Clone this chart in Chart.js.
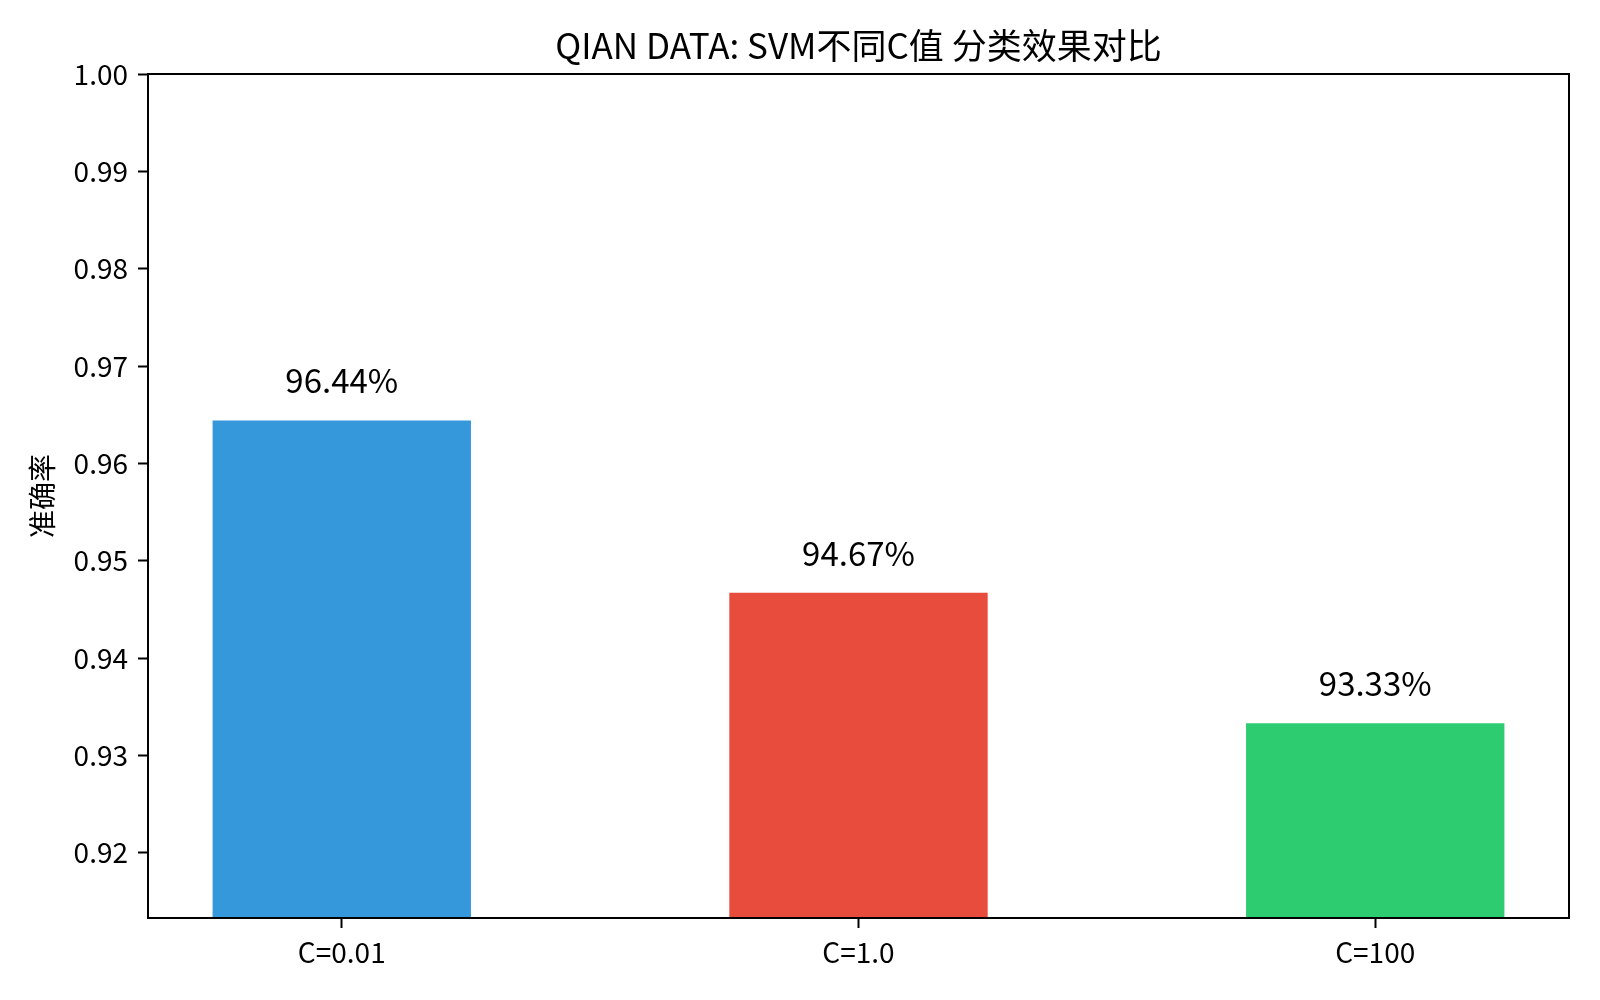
<!DOCTYPE html>
<html>
<head>
<meta charset="utf-8">
<script src="https://cdn.jsdelivr.net/npm/chart.js@4/dist/chart.umd.min.js"></script>
<style>
  html, body { margin: 0; padding: 0; background: #fff; }
  #wrap { width: 1600px; height: 1000px; }
</style>
</head>
<body>
<div id="wrap"><canvas id="myChart" width="1600" height="1000"></canvas></div>
<script>
// data
var categories = ["C=0.01", "C=1.0", "C=100"];
var accuracy = [0.9644, 0.9467, 0.9333];
var barColors = ["#3498db", "#e74c3c", "#2ecc71"];
var yTicks = [0.92, 0.93, 0.94, 0.95, 0.96, 0.97, 0.98, 0.99, 1.00];
var yMin = 0.9133, yMax = 1.0;
var titleText = 'QIAN DATA: SVM不同C值 分类效果对比';

var FONT = "'Noto Sans CJK SC', 'Noto Sans', sans-serif";

// full box around the plot like matplotlib, and title centred over the axes
var frame = {
    id: 'frame',
    afterDraw: function (chart) {
        var a = chart.chartArea, ctx = chart.ctx;
        ctx.save();
        ctx.strokeStyle = '#000';
        ctx.lineWidth = 2;
        ctx.strokeRect(a.left, a.top, a.right - a.left, a.bottom - a.top);
        ctx.font = '35px ' + FONT;
        ctx.fillStyle = '#000';
        ctx.textAlign = 'center';
        ctx.textBaseline = 'middle';
        ctx.fillText(titleText, (a.left + a.right) / 2, a.top - 28);
        ctx.restore();
    }
};

// percent labels above bars
var valueLabels = {
    id: 'valueLabels',
    afterDatasetsDraw: function (chart) {
        var ctx = chart.ctx;
        var meta = chart.getDatasetMeta(0);
        var ys = chart.scales.y;
        ctx.save();
        ctx.font = '33px ' + FONT;
        ctx.fillStyle = '#000';
        ctx.textAlign = 'center';
        ctx.textBaseline = 'alphabetic';
        meta.data.forEach(function (bar, i) {
            var v = accuracy[i];
            ctx.fillText((v * 100).toFixed(2) + '%', bar.x, ys.getPixelForValue(v + 0.0028));
        });
        ctx.restore();
    }
};

var ctx = document.getElementById("myChart");
var chart = new Chart(ctx, {
    type: 'bar',
    data: {
        datasets: [{
            data: accuracy.map(function (v, i) { return {x: i, y: v}; }),
            backgroundColor: barColors,
            borderWidth: 0,
            barPercentage: 0.5,
            categoryPercentage: 1.0
        }]
    },
    plugins: [frame, valueLabels],
    options: {
        responsive: false,
        animation: false,
        devicePixelRatio: 1,
        layout: { padding: { left: 0, right: 31, top: 74, bottom: 0 } },
        plugins: {
            legend: { display: false },
            tooltip: { enabled: false },
            title: { display: false }
        },
        scales: {
            x: {
                type: 'linear',
                min: -0.375,
                max: 2.375,
                offset: false,
                afterBuildTicks: function (scale) {
                    scale.ticks = categories.map(function (c, i) { return {value: i}; });
                },
                afterFit: function (scale) { scale.height = 82; },
                ticks: {
                    autoSkip: false,
                    maxRotation: 0,
                    padding: 8,
                    color: '#000',
                    font: { family: FONT, size: 28 },
                    callback: function (v) { return categories[v]; }
                },
                grid: {
                    offset: false,
                    drawOnChartArea: false,
                    drawTicks: true,
                    tickLength: 10,
                    tickWidth: 2,
                    color: '#000'
                },
                border: { display: true, color: '#000', width: 2 }
            },
            y: {
                min: yMin,
                max: yMax,
                afterBuildTicks: function (scale) {
                    scale.ticks = yTicks.map(function (t) { return {value: t}; });
                },
                afterFit: function (scale) { scale.width = 148; },
                title: {
                    display: true,
                    text: '准确率',
                    color: '#000',
                    font: { family: FONT, size: 28, lineHeight: 1.2 },
                    padding: { top: 26, bottom: 0 }
                },
                ticks: {
                    padding: 10,
                    color: '#000',
                    font: { family: FONT, size: 28 },
                    callback: function (v) { return Number(v).toFixed(2); }
                },
                grid: {
                    drawOnChartArea: false,
                    drawTicks: true,
                    tickLength: 10,
                    tickWidth: 2,
                    color: '#000'
                },
                border: { display: true, color: '#000', width: 2 }
            }
        }
    }
});
</script>
</body>
</html>
